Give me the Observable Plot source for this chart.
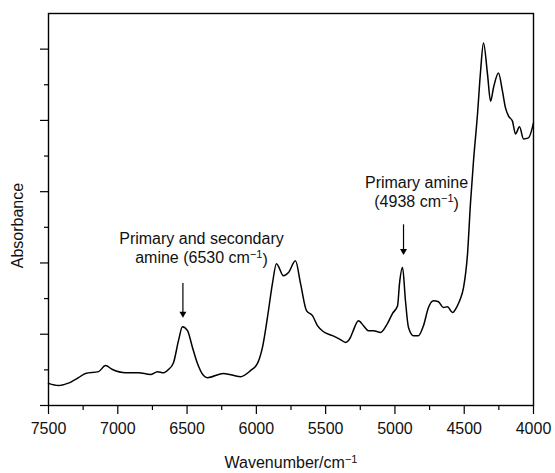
<!DOCTYPE html>
<html>
<head>
<meta charset="utf-8">
<script src="https://cdn.jsdelivr.net/npm/d3@7"></script>
<script src="https://cdn.jsdelivr.net/npm/@observablehq/plot@0.6"></script>
<style>
  html, body { margin: 0; padding: 0; background: #fff; }
  #chart { width: 555px; height: 473px; }
</style>
</head>
<body>
<div id="chart"></div>
<script>
// Spectrum: wavenumber (cm^-1) and absorbance (arbitrary units)
const wavenumber = [7500, 7428, 7363, 7284, 7233, 7139, 7089, 7038, 6944, 6851, 6764, 6713, 6670, 6634, 6598, 6562, 6533, 6497, 6461, 6425, 6381, 6353, 6237, 6114, 6042, 5992, 5956, 5920, 5884, 5855, 5804, 5768, 5718, 5681, 5638, 5595, 5559, 5515, 5450, 5393, 5357, 5321, 5306, 5263, 5227, 5191, 5155, 5104, 5054, 5018, 4981, 4967, 4945, 4924, 4902, 4866, 4830, 4794, 4758, 4722, 4686, 4650, 4621, 4585, 4549, 4527, 4505, 4476, 4455, 4433, 4404, 4382, 4361, 4332, 4310, 4289, 4253, 4224, 4202, 4180, 4152, 4130, 4101, 4072, 4036, 4000];
const absorbance = [0.62, 0.56, 0.62, 0.78, 0.90, 0.95, 1.12, 1.01, 0.92, 0.92, 0.87, 0.95, 0.92, 1.01, 1.20, 1.82, 2.21, 2.10, 1.63, 1.18, 0.84, 0.78, 0.90, 0.81, 0.98, 1.18, 1.63, 2.47, 3.42, 3.98, 3.64, 3.73, 4.06, 3.42, 2.66, 2.52, 2.24, 2.07, 1.96, 1.85, 1.77, 1.91, 2.05, 2.38, 2.24, 2.10, 2.10, 2.05, 2.30, 2.58, 2.80, 3.42, 3.87, 2.94, 2.19, 1.96, 1.96, 2.24, 2.75, 2.94, 2.91, 2.75, 2.77, 2.61, 2.80, 3.00, 3.31, 4.26, 5.66, 6.86, 8.18, 9.38, 10.17, 9.30, 8.54, 8.91, 9.33, 8.82, 8.35, 8.12, 7.98, 7.62, 7.82, 7.48, 7.51, 7.93];

// Tick values
const xMajorTicks = [7500, 7000, 6500, 6000, 5500, 5000, 4500, 4000];
const xMinorTicks = [7250, 6750, 6250, 5750, 5250, 4750, 4250];
const yMajorTicks = [0, 2, 4, 6, 8, 10];
const yMinorTicks = [1, 3, 5, 7, 9];

// Annotations
const noteLines = ["Primary and secondary", "amine (6530 cm\u22121)", "Primary amine", "(4938 cm\u22121)"];
const noteX = [6396, 6396, 4844, 4844];
const noteY = [4.68, 4.15, 6.25, 5.71];
const arrowX = [6530, 4938];
const arrowTop = [3.42, 5.07];
const arrowTip = [2.49, 4.25];

const xLabel = "Wavenumber/cm\u22121";
const yLabel = "Absorbance";

const spectrum = wavenumber.map((w, i) => ({w, a: absorbance[i]}));
const notes = noteLines.map((t, i) => ({t, x: noteX[i], y: noteY[i]}));
const arrows = arrowX.map((x, i) => ({x, y1: arrowTop[i], y2: arrowTip[i]}));

const font = "'Liberation Sans', Arial, Helvetica, sans-serif";

const chart = Plot.plot({
  width: 555,
  height: 473,
  marginLeft: 48,
  marginRight: 22,
  marginTop: 13,
  marginBottom: 68,
  style: {fontFamily: font, fontSize: "16px", color: "#000", background: "#fff"},
  x: {domain: [7500, 4000]},
  y: {domain: [0, 11]},
  marks: [
    Plot.axisX(xMajorTicks, {tickSize: 9, tickPadding: 8, fontSize: 16, tickFormat: d => String(d), label: null, stroke: "#000", fill: "#111", strokeWidth: 1.2}),
    Plot.axisX(xMinorTicks, {tickSize: 5, text: null, label: null, stroke: "#000", strokeWidth: 1.2}),
    Plot.axisY(yMajorTicks, {tickSize: 8, text: null, label: null, stroke: "#000", strokeWidth: 1.2}),
    Plot.axisY(yMinorTicks, {tickSize: 4, text: null, label: null, stroke: "#000", strokeWidth: 1.2}),
    Plot.frame({stroke: "#000", strokeWidth: 1.4}),
    Plot.line(spectrum, {x: "w", y: "a", stroke: "#000", strokeWidth: 1.5, curve: "monotone-x"}),
    Plot.ruleX(arrows, {x: "x", y1: "y1", y2: "y2", stroke: "#000", strokeWidth: 1.2}),
    Plot.dot(arrows, {x: "x", y: "y2", symbol: "triangle", rotate: 180, r: 2.6, dy: -3, fill: "#000", stroke: "none"}),
    Plot.text(notes, {x: "x", y: "y", text: "t", fontSize: 16, fill: "#111", textAnchor: "middle"}),
    Plot.text([yLabel], {frameAnchor: "left", y: [5.05], dx: -31, rotate: -90, textAnchor: "middle", lineAnchor: "middle", fontSize: 16, fill: "#111"}),
    Plot.text([xLabel], {frameAnchor: "bottom", dy: 57, textAnchor: "middle", lineAnchor: "middle", fontSize: 16, fill: "#111"})
  ]
});

// turn the "−1" after "cm" into a superscript
function supify(root) {
  const walker = document.createTreeWalker(root, NodeFilter.SHOW_TEXT);
  const nodes = [];
  while (walker.nextNode()) nodes.push(walker.currentNode);
  const ns = "http://www.w3.org/2000/svg";
  for (const n of nodes) {
    const s = n.nodeValue;
    const k = s.indexOf("cm\u22121");
    if (k < 0) continue;
    const parent = n.parentNode;
    const rest = s.slice(k + 4);
    parent.insertBefore(document.createTextNode(s.slice(0, k + 2)), n);
    const sup = document.createElementNS(ns, "tspan");
    sup.setAttribute("dy", "-0.45em");
    sup.setAttribute("font-size", "11");
    sup.textContent = "\u22121";
    parent.insertBefore(sup, n);
    if (rest) {
      const after = document.createElementNS(ns, "tspan");
      after.setAttribute("dy", "0.45em");
      after.textContent = rest;
      parent.insertBefore(after, n);
    }
    parent.removeChild(n);
  }
}
supify(chart);
document.getElementById("chart").appendChild(chart);
</script>
</body>
</html>
